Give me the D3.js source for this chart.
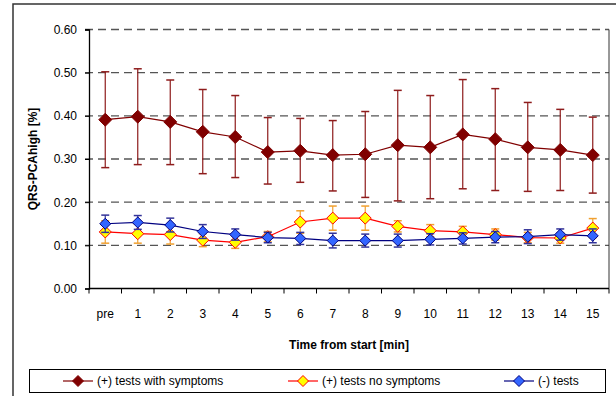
<!DOCTYPE html>
<html>
<head>
<meta charset="utf-8">
<script src="https://cdn.jsdelivr.net/npm/d3@7"></script>
<style>
  body { margin: 0; background: #fff; }
  svg { font-family: "Liberation Sans", Arial, sans-serif; }
</style>
</head>
<body>
<div id="chart"></div>
<script>
// categories along the x axis
const categories = ['pre', '1', '2', '3', '4', '5', '6', '7', '8', '9', '10', '11', '12', '13', '14', '15'];
const yTicks = [0, 0.1, 0.2, 0.3, 0.4, 0.5, 0.6];

// (+) tests with symptoms
const withSymptoms = [0.391, 0.398, 0.386, 0.363, 0.351, 0.316, 0.319, 0.309, 0.311, 0.332, 0.327, 0.357, 0.346, 0.327, 0.321, 0.309];
const withSymptomsHigh = [0.502, 0.509, 0.483, 0.461, 0.447, 0.396, 0.394, 0.389, 0.410, 0.459, 0.447, 0.484, 0.463, 0.431, 0.415, 0.397];
const withSymptomsLow = [0.280, 0.287, 0.287, 0.266, 0.257, 0.242, 0.246, 0.226, 0.211, 0.203, 0.208, 0.231, 0.227, 0.225, 0.227, 0.221];

// (+) tests no symptoms
const noSymptoms = [0.131, 0.127, 0.125, 0.112, 0.107, 0.120, 0.154, 0.163, 0.163, 0.144, 0.134, 0.131, 0.125, 0.118, 0.117, 0.140];
const noSymptomsErr = [0.026, 0.022, 0.022, 0.015, 0.014, 0.012, 0.026, 0.028, 0.028, 0.013, 0.014, 0.013, 0.013, 0.012, 0.012, 0.022];

// (-) tests
const negTests = [0.150, 0.153, 0.147, 0.132, 0.125, 0.118, 0.116, 0.111, 0.111, 0.111, 0.114, 0.116, 0.119, 0.120, 0.125, 0.122];
const negTestsErr = [0.020, 0.016, 0.016, 0.016, 0.013, 0.012, 0.014, 0.017, 0.015, 0.015, 0.013, 0.013, 0.013, 0.016, 0.013, 0.016];

const width = 616;
const height = 396;
const margin = { top: 29.5, right: 7, bottom: 107.5, left: 89 };

const svg = d3.select('#chart')
  .append('svg')
  .attr('width', width)
  .attr('height', height);

// outer chart frame (runs off the right and bottom)
svg.append('rect')
  .attr('x', 13).attr('y', 4)
  .attr('width', 620).attr('height', 400)
  .attr('fill', 'none')
  .attr('stroke', '#333')
  .attr('stroke-width', 1.5);

const x = d3.scaleBand()
  .domain(categories)
  .range([margin.left, width - margin.right]);

const y = d3.scaleLinear()
  .domain([0, 0.6])
  .range([height - margin.bottom, margin.top]);

const cx = (d, i) => x(categories[i]) + x.bandwidth() / 2;

// gridlines
svg.append('g')
  .selectAll('line')
  .data(yTicks.filter(d => d > 0))
  .enter()
  .append('line')
  .attr('x1', margin.left - 4)
  .attr('x2', width - margin.right)
  .attr('y1', d => y(d))
  .attr('y2', d => y(d))
  .attr('stroke', '#555')
  .attr('stroke-width', 1.4)
  .attr('stroke-dasharray', '8,5');

// right border of plot area
svg.append('line')
  .attr('x1', width - margin.right).attr('x2', width - margin.right)
  .attr('y1', margin.top).attr('y2', y(0))
  .attr('stroke', '#333').attr('stroke-width', 1);

// y axis
const yAxis = svg.append('g')
  .attr('transform', 'translate(' + margin.left + ',0)')
  .call(d3.axisLeft(y).tickValues(yTicks).tickFormat(d3.format('.2f')).tickSize(4).tickPadding(8));
yAxis.select('.domain').attr('stroke', '#000').attr('stroke-width', 1.3);
yAxis.selectAll('.tick line').attr('stroke', '#000');
yAxis.selectAll('text').attr('font-size', 12).attr('fill', '#000');

// x axis: ticks on band boundaries
const xAxis = svg.append('g')
  .attr('transform', 'translate(0,' + y(0) + ')');
xAxis.append('line')
  .attr('x1', margin.left).attr('x2', width - margin.right)
  .attr('stroke', '#000').attr('stroke-width', 1.3);
xAxis.selectAll('.xtick')
  .data(categories.concat(['end']))
  .enter()
  .append('line')
  .attr('class', 'xtick')
  .attr('x1', (d, i) => margin.left + i * x.step())
  .attr('x2', (d, i) => margin.left + i * x.step())
  .attr('y1', 0).attr('y2', 5)
  .attr('stroke', '#000');
xAxis.selectAll('.xlabel')
  .data(categories)
  .enter()
  .append('text')
  .attr('class', 'xlabel')
  .attr('x', d => x(d) + x.bandwidth() / 2)
  .attr('y', 29)
  .attr('text-anchor', 'middle')
  .attr('font-size', 12)
  .text(d => d);

// axis titles
svg.append('text')
  .attr('x', (margin.left + width - margin.right) / 2)
  .attr('y', 349)
  .attr('text-anchor', 'middle')
  .attr('font-size', 12)
  .attr('font-weight', 'bold')
  .text('Time from start [min]');

svg.append('text')
  .attr('transform', 'translate(37,' + ((margin.top + y(0)) / 2) + ') rotate(-90)')
  .attr('text-anchor', 'middle')
  .attr('font-size', 12)
  .attr('font-weight', 'bold')
  .text('QRS-PCAhigh [%]');

const diamond = r => 'M0,' + (-r) + 'L' + r + ',0L0,' + r + 'L' + (-r) + ',0Z';

function drawSeries(values, lo, hi, opt) {
  const g = svg.append('g');
  const capW = 4;
  // error bars
  const eb = g.selectAll('.eb')
    .data(values)
    .enter()
    .append('g');
  eb.append('line')
    .attr('x1', cx).attr('x2', cx)
    .attr('y1', (d, i) => y(hi[i])).attr('y2', (d, i) => y(lo[i]))
    .attr('stroke', opt.err).attr('stroke-width', 1.2);
  eb.append('line')
    .attr('x1', (d, i) => cx(d, i) - capW).attr('x2', (d, i) => cx(d, i) + capW)
    .attr('y1', (d, i) => y(hi[i])).attr('y2', (d, i) => y(hi[i]))
    .attr('stroke', opt.err).attr('stroke-width', 1.5);
  eb.append('line')
    .attr('x1', (d, i) => cx(d, i) - capW).attr('x2', (d, i) => cx(d, i) + capW)
    .attr('y1', (d, i) => y(lo[i])).attr('y2', (d, i) => y(lo[i]))
    .attr('stroke', opt.err).attr('stroke-width', 1.5);
  // line
  const line = d3.line().x(cx).y(d => y(d));
  g.append('path')
    .datum(values)
    .attr('d', line)
    .attr('fill', 'none')
    .attr('stroke', opt.line)
    .attr('stroke-width', 1.2);
  // markers
  g.selectAll('.mk')
    .data(values)
    .enter()
    .append('path')
    .attr('transform', (d, i) => 'translate(' + cx(d, i) + ',' + y(d) + ')')
    .attr('d', diamond(opt.r))
    .attr('fill', opt.fill)
    .attr('stroke', opt.stroke)
    .attr('stroke-width', 1);
}

drawSeries(withSymptoms, withSymptomsLow, withSymptomsHigh,
  { err: '#8e1c1c', line: '#800000', fill: '#800000', stroke: '#800000', r: 6.5 });
drawSeries(noSymptoms, noSymptoms.map((d, i) => d - noSymptomsErr[i]), noSymptoms.map((d, i) => d + noSymptomsErr[i]),
  { err: '#f0a030', line: '#ff0000', fill: '#ffff00', stroke: '#ff0000', r: 6 });
drawSeries(negTests, negTests.map((d, i) => d - negTestsErr[i]), negTests.map((d, i) => d + negTestsErr[i]),
  { err: '#333399', line: '#000080', fill: '#3366ff', stroke: '#000080', r: 5.5 });

// legend
const legend = svg.append('g');
legend.append('rect')
  .attr('x', 29.5).attr('y', 369.5)
  .attr('width', 576).attr('height', 23)
  .attr('fill', '#fff')
  .attr('stroke', '#000');

const legendItems = [
  { label: '(+) tests with symptoms', x: 63, line: '#800000', fill: '#800000', stroke: '#800000' },
  { label: '(+) tests no symptoms', x: 288, line: '#ff0000', fill: '#ffff00', stroke: '#ff0000' },
  { label: '(-) tests', x: 504, line: '#000080', fill: '#3366ff', stroke: '#000080' }
];
const li = legend.selectAll('.li')
  .data(legendItems)
  .enter()
  .append('g')
  .attr('transform', d => 'translate(' + d.x + ',381)');
li.append('line')
  .attr('x1', 0).attr('x2', 30)
  .attr('stroke', d => d.line).attr('stroke-width', 1.2);
li.append('path')
  .attr('transform', 'translate(15,0)')
  .attr('d', diamond(5.5))
  .attr('fill', d => d.fill)
  .attr('stroke', d => d.stroke);
li.append('text')
  .attr('x', 34)
  .attr('dy', '0.35em')
  .attr('font-size', 12)
  .text(d => d.label);
</script>
</body>
</html>
